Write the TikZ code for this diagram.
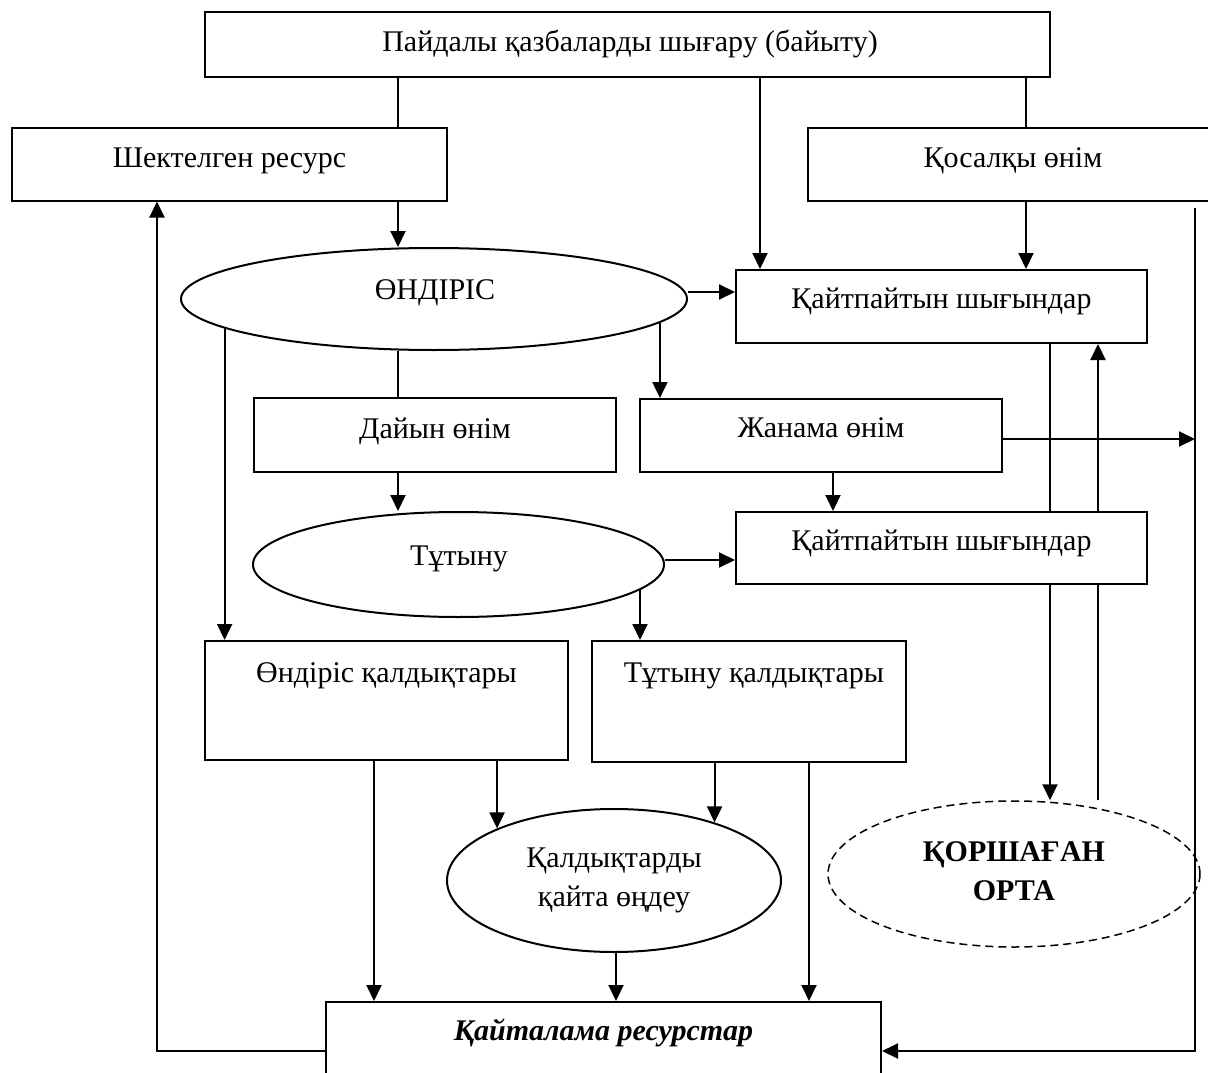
\documentclass[tikz,border=0pt]{standalone}
\usepackage{fontspec}
\setmainfont{Liberation Serif}
\usetikzlibrary{shapes.geometric,arrows.meta,backgrounds,calc}
\begin{document}
\begin{tikzpicture}[x=1pt,y=-1pt,
  every node/.style={font=\fontsize{30}{39}\selectfont},
  box/.style={draw, line width=2pt, fill=white, inner sep=0pt, rectangle},
  oval/.style={draw, line width=2pt, fill=white, inner sep=0pt, ellipse},
  conn/.style={line width=2pt},
  arr/.style={line width=2pt, -{Triangle[length=16pt,width=15pt]}},
  txt/.style={anchor=base, inner sep=0pt}
]
\useasboundingbox (0,0) rectangle (1208,1073);

% column / row helpers
\coordinate (x157) at (157,0);
\coordinate (x374) at (374,0);
\coordinate (x398) at (398,0);
\coordinate (x616) at (616,0);
\coordinate (x760) at (760,0);
\coordinate (x809) at (809,0);
\coordinate (x833) at (833,0);
\coordinate (x1026) at (1026,0);
\coordinate (x1050) at (1050,0);
\coordinate (x1098) at (1098,0);
\coordinate (x1195) at (1195,0);
\coordinate (r1051) at (0,1051);

% shapes
\node[box, minimum width=845pt, minimum height=65pt] (top) at (627.5,44.5) {};
\node[box, minimum width=435pt, minimum height=73pt] (shek) at (229.5,164) {};
\node[box, minimum width=410pt, minimum height=73pt] (kos) at (1013,164) {};
\node[oval, minimum width=506pt, minimum height=102pt] (prod) at (434,299) {};
\node[box, minimum width=411pt, minimum height=73pt] (k1) at (941.5,306.5) {};
\node[box, minimum width=362pt, minimum height=74pt] (dayin) at (435,435) {};
\node[box, minimum width=362pt, minimum height=73pt] (jan) at (821,435.5) {};
\node[oval, minimum width=411pt, minimum height=105pt] (tut) at (458.5,564.5) {};
\node[box, minimum width=411pt, minimum height=72pt] (k2) at (941.5,548) {};
\node[box, minimum width=363pt, minimum height=119pt] (ondq) at (386.5,700.5) {};
\node[box, minimum width=314pt, minimum height=121pt] (tutq) at (749,701.5) {};
\node[oval, minimum width=334pt, minimum height=143pt,
  label={[align=center,inner sep=0pt]center:Қалдықтарды\\қайта өңдеу}] (recyc) at (614,880.5) {};
\node[oval, dashed, dash pattern=on 8pt off 5pt, line width=1.5pt, minimum width=372pt, minimum height=146pt,
  label={[align=center,inner sep=0pt,yshift=3pt,font=\fontsize{30}{39}\selectfont\bfseries]center:ҚОРШАҒАН\\ОРТА}] (env) at (1014,874) {};
\node[box, minimum width=555pt, minimum height=90pt] (kayt) at (603.5,1047) {};

% texts
\node[txt] (ttop) at (630,52) {Пайдалы қазбаларды шығару (байыту)};
\node[txt] (tshek) at (229.5,167) {Шектелген ресурс};
\node[txt] (tkos) at (1013,167) {Қосалқы өнім};
\node[txt] (tprod) at (435,299) {ӨНДІРІС};
\node[txt] (tk1) at (941.5,308) {Қайтпайтын шығындар};
\node[txt] (tdayin) at (435,438) {Дайын өнім};
\node[txt] (tjan) at (821,437) {Жанама өнім};
\node[txt] (ttut) at (459,565) {Тұтыну};
\node[txt] (tk2) at (941.5,550) {Қайтпайтын шығындар};
\node[txt] (tondq) at (386.5,682) {Өндіріс қалдықтары};
\node[txt] (ttutq) at (754,682) {Тұтыну қалдықтары};
\node[txt, font=\fontsize{30}{39}\selectfont\bfseries\itshape] (tkayt) at (603.5,1040) {Қайталама ресурстар};

% connectors
\draw[conn] (top.south -| x398) -- (shek.north -| x398);
\draw[arr] (top.south -| x760) -- (k1.north -| x760);
\draw[conn] (top.south -| x1026) -- (kos.north -| x1026);
\draw[arr] (kos.south -| x1026) -- (k1.north -| x1026);
\draw[arr] (shek.south -| x398) -- (prod.north -| x398);
\draw[arr] ([yshift=7pt]prod.east) -- ([yshift=7pt]prod.east -| k1.west);
\draw[conn] (prod.south -| x398) -- (dayin.north -| x398);
\draw[arr] (prod.188.3) -- (prod.188.3 |- ondq.north);
\draw[arr] (prod.354.7) -- (prod.354.7 |- jan.north);
\draw[arr] (dayin.south -| x398) -- (tut.north -| x398);
\draw[arr] ([yshift=4.5pt]tut.east) -- ([yshift=4.5pt]tut.east -| k2.west);
\draw[arr] (tut.352.3) -- (tut.352.3 |- tutq.north);
\draw[arr] (jan.south -| x833) -- (k2.north -| x833);
\draw[arr] ([yshift=-3.5pt]jan.east) -- ([yshift=-3.5pt]jan.east -| x1195);
\begin{pgfonlayer}{background}
\draw[arr] (k1.south -| x1050) -- (env.north -| x1050);
\draw[arr] (env.north -| x1098) -- (k1.south -| x1098);
\end{pgfonlayer}
\draw[arr] (ondq.south -| x374) -- (kayt.north -| x374);
\draw[arr] (recyc.156.8 |- ondq.south) -- (recyc.156.8);
\draw[arr] (recyc.30.6 |- tutq.south) -- (recyc.30.6);
\draw[arr] (tutq.south -| x809) -- (kayt.north -| x809);
\draw[arr] (recyc.south -| x616) -- (kayt.north -| x616);
\draw[arr] (kayt.west |- r1051) -| (shek.south -| x157);
\draw[arr] ($(kos.south -| x1195)+(0,6)$) -- (x1195 |- r1051) -- (kayt.east |- r1051);
\end{tikzpicture}
\end{document}
